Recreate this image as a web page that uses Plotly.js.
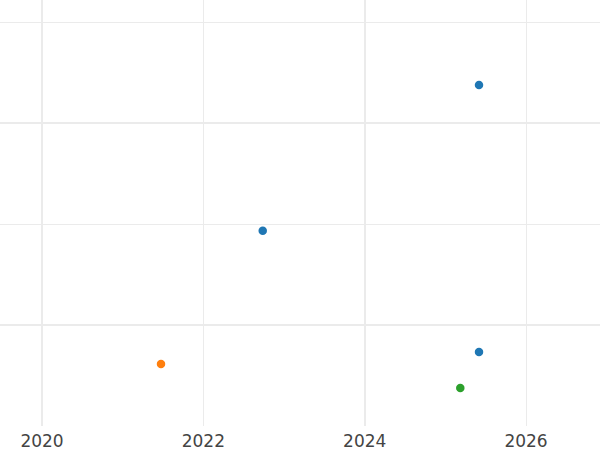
<!DOCTYPE html>
<html>
<head>
<meta charset="utf-8">
<script src="https://cdn.plot.ly/plotly-3.0.1.min.js"></script>
<style>html,body{margin:0;padding:0;background:#fff}#chart{width:600px;height:450px}</style>
</head>
<body>
<div id="chart"></div>
<script>
// Data
const blueX = [2025.417, 2022.736, 2025.417];
const blueY = [2.188, 1.467, 0.866];
const orangeX = [2021.475];
const orangeY = [0.807];
const greenX = [2025.185];
const greenY = [0.688];
const xTickVals = [2020, 2022, 2024, 2026];
const xTickText = ['2020', '2022', '2024', '2026'];
const xMajorGrid = [2020, 2024];
const xMinorGrid = [2022, 2026];
const yMajorGrid = [1, 2];
const yMinorGrid = [1.5, 2.5];

const xRange = [2019.479, 2026.917];
const yRange = [0.5, 2.609];
const grid = '#ebebeb';
const labelFont = {family: 'DejaVu Sans, sans-serif', size: 17, color: '#444444'};

const mk = (x, y, color) => ({
  type: 'scatter', mode: 'markers', x: x, y: y, xaxis: 'x', yaxis: 'y',
  marker: {color: color, size: 8.5}, showlegend: false, hoverinfo: 'x+y'
});

const data = [
  mk(blueX, blueY, '#1f77b4'),
  mk(orangeX, orangeY, '#ff7f0e'),
  mk(greenX, greenY, '#2ca02c'),
  {type: 'scatter', mode: 'markers', x: [], y: [], xaxis: 'x2', yaxis: 'y', showlegend: false}
];

const layout = {
  width: 600, height: 450,
  margin: {l: 0, r: 0, t: 0, b: 24, pad: 0},
  paper_bgcolor: '#ffffff', plot_bgcolor: '#ffffff',
  font: labelFont,
  showlegend: false,
  xaxis: {
    range: xRange, tickmode: 'array', tickvals: xMajorGrid,
    showticklabels: false, showgrid: true, gridcolor: grid, gridwidth: 2,
    zeroline: false, showline: false, ticks: '',
    minor: {tickmode: 'array', tickvals: xMinorGrid, showgrid: true, gridcolor: grid, gridwidth: 1, ticks: ''}
  },
  xaxis2: {
    overlaying: 'x', anchor: 'y', side: 'bottom', range: xRange,
    tickmode: 'array', tickvals: xTickVals, ticktext: xTickText,
    showgrid: false, zeroline: false, showline: false, ticks: '',
    ticklabelstandoff: 3,
    tickfont: labelFont
  },
  yaxis: {
    range: yRange, tickmode: 'array', tickvals: yMajorGrid,
    showticklabels: false, showgrid: true, gridcolor: grid, gridwidth: 2,
    zeroline: false, showline: false, ticks: '',
    minor: {tickmode: 'array', tickvals: yMinorGrid, showgrid: true, gridcolor: grid, gridwidth: 1, ticks: ''}
  }
};

Plotly.newPlot('chart', data, layout, {displayModeBar: false, staticPlot: true});
</script>
</body>
</html>
